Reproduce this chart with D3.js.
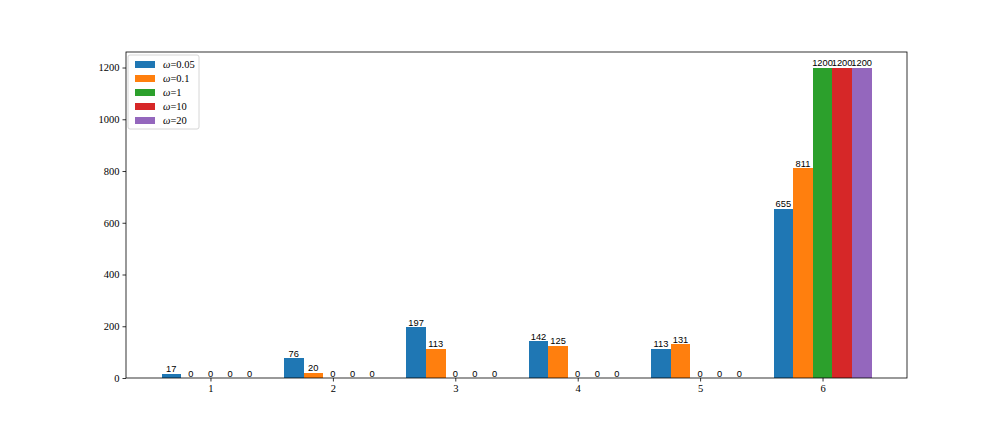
<!DOCTYPE html>
<html>
<head>
<meta charset="utf-8">
<script src="https://d3js.org/d3.v7.min.js"></script>
<style>
  body { margin: 0; background: #fff; }
</style>
</head>
<body>
<div id="vis"></div>
<script>
var groups = [1, 2, 3, 4, 5, 6];
var seriesNames = ["0.05", "0.1", "1", "10", "20"];
var w005 = [17, 76, 197, 142, 113, 655];
var w01 = [0, 20, 113, 125, 131, 811];
var w1 = [0, 0, 0, 0, 0, 1200];
var w10 = [0, 0, 0, 0, 0, 1200];
var w20 = [0, 0, 0, 0, 0, 1200];
var yTicks = [0, 200, 400, 600, 800, 1000, 1200];
var colors = ["#1f77b4", "#ff7f0e", "#2ca02c", "#d62728", "#9467bd"];

var series = [w005, w01, w1, w10, w20];
var barW = 0.16;

var margin = {top: 52, right: 101, bottom: 54, left: 126};
var width = 1008 - margin.left - margin.right;
var height = 432 - margin.top - margin.bottom;

var svg = d3.select("#vis").append("svg")
  .attr("width", 1008)
  .attr("height", 432);

var g = svg.append("g")
  .attr("transform", "translate(" + margin.left + "," + margin.top + ")");

// matplotlib style 5% margins on x
var xmin = 1 - 2.5 * barW, xmax = 6 + 2.5 * barW;
var pad = (xmax - xmin) * 0.05;
var x = d3.scaleLinear().domain([xmin - pad, xmax + pad]).range([0, width]);
var y = d3.scaleLinear().domain([0, 1260]).range([height, 0]);

// bars
series.forEach(function(vals, i) {
  var off = (i - 2) * barW;
  var sg = g.append("g");
  sg.selectAll("rect")
    .data(vals)
    .enter().append("rect")
    .attr("x", function(d, j) { return x(groups[j] + off - barW / 2); })
    .attr("width", x(barW) - x(0))
    .attr("y", function(d) { return y(d); })
    .attr("height", function(d) { return height - y(d); })
    .attr("fill", colors[i])
    .attr("shape-rendering", "crispEdges");
  sg.selectAll("text")
    .data(vals)
    .enter().append("text")
    .attr("x", function(d, j) { return x(groups[j] + off); })
    .attr("y", function(d) { return y(d) - 1.5; })
    .attr("text-anchor", "middle")
    .style("font-family", "Liberation Sans, Arial, sans-serif")
    .style("font-size", "9.3px")
    .text(function(d) { return d; });
});

// axes
var xAxis = g.append("g")
  .attr("transform", "translate(0," + height + ")")
  .call(d3.axisBottom(x).tickValues(groups).tickSize(3.5).tickPadding(3).tickFormat(d3.format("d")));
var yAxis = g.append("g")
  .call(d3.axisLeft(y).tickValues(yTicks).tickSize(3.5).tickPadding(3).tickFormat(d3.format("d")));
[xAxis, yAxis].forEach(function(a) {
  a.select(".domain").remove();
  a.selectAll("text")
    .style("font-family", "Liberation Serif, DejaVu Serif, serif")
    .style("font-size", "10.5px")
    .attr("fill", "#000");
  a.selectAll("line").attr("stroke", "#000").attr("stroke-width", 0.8);
});

g.append("rect")
  .attr("width", width)
  .attr("height", height)
  .attr("fill", "none")
  .attr("stroke", "#000")
  .attr("stroke-width", 0.8);

// legend
var leg = g.append("g").attr("transform", "translate(2,3)");
leg.append("rect")
  .attr("width", 71)
  .attr("height", 74)
  .attr("rx", 2)
  .attr("fill", "#fff")
  .attr("fill-opacity", 0.8)
  .attr("stroke", "#ccc")
  .attr("stroke-width", 0.8);
seriesNames.forEach(function(s, i) {
  var row = leg.append("g").attr("transform", "translate(0," + (6 + i * 14) + ")");
  row.append("rect")
    .attr("x", 7).attr("y", 0)
    .attr("width", 20).attr("height", 7)
    .attr("fill", colors[i]);
  var t = row.append("text")
    .attr("x", 35).attr("y", 7)
    .style("font-family", "Liberation Serif, DejaVu Serif, serif")
    .style("font-size", "10.5px");
  t.append("tspan").style("font-style", "italic").text("\u03c9");
  t.append("tspan").text("=" + s);
});
</script>
</body>
</html>
